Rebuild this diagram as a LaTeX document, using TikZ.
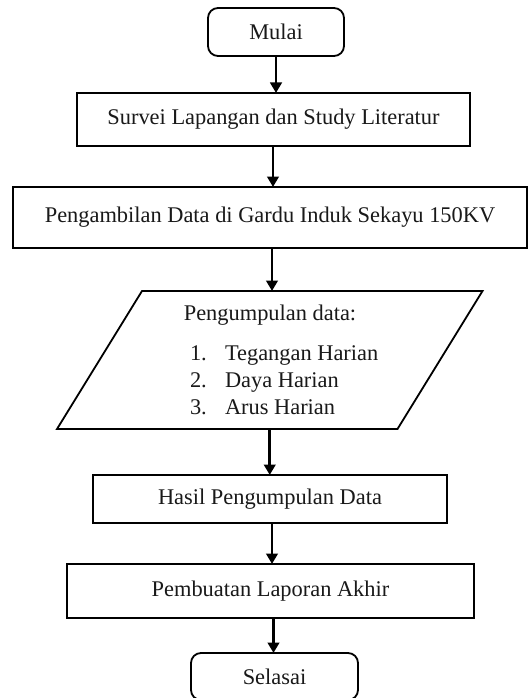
\documentclass[tikz,border=0pt]{standalone}
\usepackage{fontspec}
\setmainfont{Liberation Serif}
\usetikzlibrary{arrows.meta,calc}
\tikzset{
  basefont/.style={font=\fontsize{22.4}{27}\selectfont},
  box/.style={draw=black, line width=1.8pt, rectangle, inner sep=0pt, outer sep=0pt, basefont, text=black!90},
  term/.style={box, rounded corners=10pt},
  txt/.style={inner sep=0pt, outer sep=0pt, basefont, text=black!90},
  arr/.style={line width=2.9pt, -{Triangle[length=10.5pt,width=11.5pt]}}
}
\begin{document}
\begin{tikzpicture}[x=1pt,y=-1pt]
\useasboundingbox[fill=white] (0,0) rectangle (529,698);
\node[term, minimum width=136pt, minimum height=48pt] (mulai) at (276,32) {Mulai};
\node[box, minimum width=393pt, minimum height=53pt] (survei) at (273.5,119.5) {\raisebox{2pt}{Survei Lapangan dan Study Literatur}};
\node[box, minimum width=514pt, minimum height=61pt] (ambil) at (270,217.5) {\raisebox{5pt}{Pengambilan Data di Gardu Induk Sekayu 150KV}};
\node[inner sep=0pt, outer sep=0pt, minimum width=340.5pt, minimum height=138pt] (data) at (269.75,360) {};
\draw[line width=1.8pt, line join=miter]
  ($(data.north west)+(42.5,0)$) -- ($(data.north east)+(42.5,0)$) --
  ($(data.south east)+(-42.5,0)$) -- ($(data.south west)+(-42.5,0)$) -- cycle;
\node[txt, anchor=base] (dhead) at (270,320) {Pengumpulan data:};
\node[txt, anchor=base west] (n1) at (190,360) {1.};
\node[txt, anchor=base west] (i1) at (225,360) {Tegangan Harian};
\node[txt, anchor=base west] (n2) at (190,387) {2.};
\node[txt, anchor=base west] (i2) at (225,387) {Daya Harian};
\node[txt, anchor=base west] (n3) at (190,414) {3.};
\node[txt, anchor=base west] (i3) at (225,414) {Arus Harian};
\node[box, minimum width=354pt, minimum height=48pt] (hasil) at (270,499) {Hasil Pengumpulan Data};
\node[box, minimum width=407pt, minimum height=54pt] (buat) at (270.5,591) {\raisebox{3pt}{Pembuatan Laporan Akhir}};
\node[term, minimum width=167pt, minimum height=47pt] (selesai) at (274.5,676.5) {Selasai};
\draw[arr] (mulai.south) -- (mulai.south |- survei.north);
\draw[arr] ([xshift=-0.5pt]survei.south) -- ([xshift=-0.5pt]survei.south |- ambil.north);
\draw[arr] ([xshift=2pt]ambil.south) -- ([xshift=2pt]ambil.south |- data.north);
\draw[arr] (data.south) -- (data.south |- hasil.north);
\draw[arr] ([xshift=2pt]hasil.south) -- ([xshift=2pt]hasil.south |- buat.north);
\draw[arr] ([xshift=3pt]buat.south) -- ([xshift=3pt]buat.south |- selesai.north);
\end{tikzpicture}
\end{document}
